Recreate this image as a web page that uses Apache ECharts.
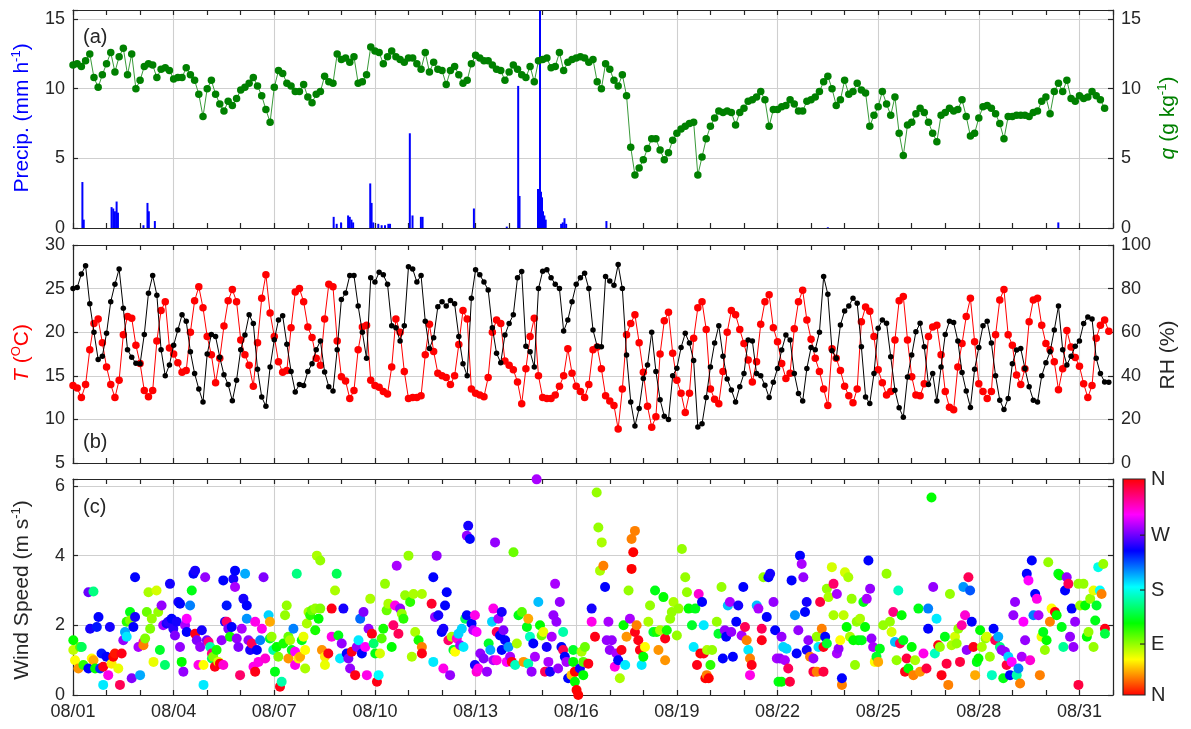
<!DOCTYPE html>
<html><head><meta charset="utf-8">
<script src="https://cdn.jsdelivr.net/npm/echarts@6/dist/echarts.min.js"></script>
<style>html,body{margin:0;padding:0;background:#fff}#c{width:1191px;height:729px}</style>
</head><body><div id="c"></div>
<script>
// ---------- DATA ----------
const dateLabels = ['08/01','08/04','08/07','08/10','08/13','08/16','08/19','08/22','08/25','08/28','08/31'];
const STEP = 0.125; // 3-hourly samples, in days since 08/01 00:00

// Precipitation [day, mm/h]
const precip = [[0.28,3.3],[0.32,0.6],[1.15,1.5],[1.2,1.4],[1.25,1.2],[1.3,1.9],[1.34,1.1],[2.1,0.2],[2.22,1.8],[2.26,1.2],[2.44,0.5],
[7.77,0.8],[7.86,0.3],[7.99,0.4],[8.2,0.9],[8.25,0.8],[8.3,0.6],[8.35,0.4],[8.86,3.2],[8.9,1.8],[8.95,0.4],[9.1,0.3],[9.2,0.2],[9.3,0.2],[9.4,0.3],[9.45,0.3],
[10.04,6.8],[10.12,0.9],[10.37,0.8],[10.42,0.8],[11.95,1.4],[12.93,0.1],[13.27,10.2],[13.31,2.3],[13.86,2.8],[13.9,2.7],[13.92,15.6],[13.95,2.6],[13.98,2.2],
[14.01,1.2],[14.05,0.9],[14.09,0.6],[14.55,0.3],[14.6,0.4],[14.65,0.7],[14.7,0.3],[15.9,0.5],[22.5,0.05],[29.37,0.4]];

// Specific humidity q (g/kg), 3-hourly
const qVals = [
11.7,11.8,11.6,12.0,12.5,10.8,10.1,11.0, 11.8,12.6,11.2,12.3,12.9,11.0,12.5,10.0,
10.6,11.6,11.8,11.7,10.8,11.4,11.5,11.3, 10.7,10.8,10.8,11.5,11.0,10.6,9.6,8.0,
10.0,10.6,9.6,8.9,8.4,9.1,8.8,9.3, 9.9,10.1,10.4,10.8,10.2,9.5,8.5,7.6,
10.1,11.3,11.1,10.4,10.2,9.8,9.8,10.3, 9.4,9.0,9.6,9.8,10.9,10.5,10.4,12.5,
12.1,12.2,11.9,12.3,10.4,10.5,11.0,13.0, 12.7,12.6,11.8,12.3,12.7,12.3,12.1,11.9,
12.2,12.2,11.8,11.4,12.6,11.2,11.9,11.4, 11.3,10.3,11.3,11.6,11.0,10.4,10.6,11.8,
12.4,12.2,12.0,12.0,11.7,11.4,11.3,10.6, 11.2,11.7,11.4,11.0,10.8,11.6,10.5,12.0,
12.1,12.2,11.5,11.6,12.6,11.3,11.9,12.1, 12.2,12.3,12.2,11.9,12.1,10.5,10.0,11.8,
11.4,10.6,10.2,11.0,9.5,5.8,3.8,4.3, 4.9,5.7,6.4,6.4,5.6,4.9,5.4,6.3,
6.8,7.1,7.3,7.5,7.6,3.8,5.1,6.4, 7.3,7.9,8.4,8.3,8.4,8.3,7.4,8.3,
8.6,9.1,9.2,9.4,9.8,9.2,7.3,8.5, 8.5,8.7,8.8,9.2,8.9,8.4,8.4,9.1,
9.2,9.4,9.8,10.5,10.9,10.0,8.8,9.2, 10.6,9.6,9.8,10.4,9.9,9.7,7.3,8.1,
8.7,9.8,8.9,8.1,9.4,6.8,5.2,7.4, 7.6,8.2,8.6,8.3,7.6,6.8,6.2,8.1,
8.3,8.6,8.4,8.5,9.2,8.0,6.6,6.8, 7.9,8.7,8.8,8.6,8.2,7.5,6.4,8.0,
8.0,8.1,8.1,8.1,8.0,8.3,8.4,9.1, 9.4,8.2,9.8,10.4,9.8,10.6,9.3,9.1,
9.5,9.3,9.4,9.8,9.5,9.2,8.6];

// Temperature (degC), 3-hourly
const tVals = [
13.9,13.6,12.5,14.0,18.0,21.0,21.5,18.8, 16.0,14.0,12.5,14.5,19.7,21.8,21.6,18.5,
16.4,13.3,12.6,13.3,19.0,22.5,23.5,18.2, 17.5,16.5,15.4,15.6,20.0,23.6,25.2,22.8,
19.5,17.4,14.2,17.0,20.7,23.6,24.9,23.5, 19.1,17.4,16.2,13.8,18.8,23.9,26.6,22.2,
19.5,16.6,15.4,15.6,20.5,24.6,25.0,23.5, 20.6,19.4,17.0,16.2,21.5,25.5,25.2,19.0,
14.9,14.4,12.4,13.3,18.0,20.6,20.8,14.5, 13.9,13.7,13.2,12.9,16.0,21.5,20.0,15.5,
12.4,12.5,12.5,12.7,17.4,20.9,17.8,15.3, 15.0,14.8,14.0,15.0,18.6,22.5,21.5,13.5,
13.0,12.8,12.6,14.8,20.0,21.4,21.0,16.7, 16.2,15.7,14.3,11.8,15.8,19.5,21.6,15.0,
12.5,12.4,12.4,12.8,13.8,15.0,18.1,15.3, 13.8,13.2,12.5,14.0,18.0,18.3,15.8,12.7,
12.1,11.6,8.9,13.5,19.7,21.0,22.0,18.8, 15.4,11.5,9.1,10.3,17.5,21.3,22.3,17.6,
14.5,13.0,10.8,13.0,19.3,22.8,23.5,20.3, 13.5,12.3,11.8,15.5,20.0,22.5,22.0,20.3,
18.7,16.8,14.3,16.6,20.9,23.5,24.3,20.5, 18.9,16.4,14.7,15.3,20.4,23.5,24.8,21.4,
19.2,17.0,15.5,13.5,11.6,18.1,17.0,15.6, 13.8,12.7,11.9,13.5,21.2,22.9,22.4,19.5,
15.7,14.2,12.8,13.2,19.1,23.6,24.1,19.1, 14.9,12.8,12.7,14.1,19.5,20.6,20.8,17.4,
13.2,11.4,11.1,16.0,18.7,21.8,23.9,18.9, 14.1,13.2,12.4,13.2,19.7,23.7,24.9,19.7,
18.5,15.1,14.0,15.8,21.2,23.7,23.9,20.8, 18.7,18.0,16.6,13.4,15.8,20.2,18.3,17.1,
16.1,14.1,12.5,13.9,19.3,20.8,21.4,20.1];

// Relative humidity (%), 3-hourly
const rhVals = [
80.0,80.5,86.7,90.5,73.0,60.0,47.5,49.0, 59.5,74.0,82.0,89.0,71.0,52.0,48.5,45.8,
45.5,59.0,77.9,86.0,77.0,52.0,40.0,45.0, 54.0,61.0,68.0,65.0,51.0,41.0,34.0,28.0,
50.0,59.0,58.0,48.5,40.5,36.0,28.5,38.0, 52.0,58.7,68.0,64.0,43.0,30.3,26.0,44.0,
56.5,65.6,67.5,54.5,42.0,32.6,36.0,35.5, 42.0,45.5,52.0,56.0,41.8,35.0,33.0,52.0,
75.0,78.0,86.0,86.0,72.0,60.0,48.0,85.0, 83.0,87.5,86.3,82.0,63.0,62.0,56.0,63.0,
90.0,89.0,83.0,86.0,65.0,52.5,57.5,71.7, 74.0,72.0,74.5,73.0,58.0,45.5,40.0,75.6,
88.6,86.3,83.0,79.4,62.0,50.3,46.0,58.7, 64.0,68.0,85.0,87.8,53.5,51.0,44.0,80.0,
88.0,88.6,85.0,82.0,80.0,60.5,65.6,74.0, 82.0,85.0,87.0,80.0,61.0,53.5,53.3,85.5,
83.5,81.5,91.0,80.0,49.5,28.0,17.0,25.0, 38.8,45.0,60.0,42.0,29.0,21.5,20.0,40.0,
43.5,53.0,59.5,55.0,47.0,16.5,18.0,30.0, 44.0,55.0,63.0,49.0,38.5,33.5,28.0,35.0,
41.0,56.4,56.0,41.0,40.0,35.7,30.0,37.0, 43.4,51.8,58.7,56.4,41.0,31.9,28.4,43.4,
53.0,52.0,60.0,85.5,77.4,51.5,48.0,63.3, 69.7,72.0,75.6,73.3,53.3,30.3,27.3,41.0,
61.8,65.6,64.1,48.7,33.4,25.3,21.0,39.5, 49.5,60.2,64.1,53.3,36.0,41.0,28.4,44.0,
59.0,65.0,64.5,56.0,41.5,33.0,25.5,43.0, 53.0,63.0,65.0,55.0,40.0,28.8,24.5,29.6,
45.5,51.8,52.5,43.4,35.0,28.8,28.0,40.0, 46.0,51.0,61.0,72.0,52.0,45.0,49.0,53.5,
56.0,64.0,67.0,66.0,48.0,41.0,37.2,37.0];

// Wind observations [day, speed (m/s), direction (deg)]
const windObs = [
[0.01,1.57,120],[0.01,1.29,75],[0.06,1.0,60],[0.16,0.76,35],[0.21,1.38,100],[0.26,1.38,140],[0.31,0.86,110],[0.46,2.95,265],[0.46,0.76,240],[0.51,1.9,245],[0.56,1.05,60],[0.61,2.97,150],[0.61,1.0,40],[0.66,0.76,120],[0.71,1.95,235],[0.76,2.24,240],[0.81,0.76,230],[0.85,1.19,235],[0.9,0.29,185],[0.9,0.81,355],
[1.0,1.1,240],[1.05,0.57,305],[1.1,1.95,245],[1.15,0.9,55],[1.2,1.1,0],[1.25,1.19,5],[1.35,0.76,65],[1.4,0.29,340],[1.45,1.19,355],[1.5,1.57,275],[1.55,1.81,200],[1.6,1.67,185],[1.6,2.1,110],[1.7,2.38,125],[1.7,2.14,90],[1.75,0.48,270],[1.8,1.95,240],[1.85,2.24,245],[1.85,3.38,240],[1.95,1.38,280],
[2.0,0.57,200],[2.1,1.52,320],[2.1,1.43,30],[2.15,1.62,90],[2.2,2.38,95],[2.25,2.95,80],[2.3,1.9,90],[2.35,2.19,85],[2.4,0.95,65],[2.49,3.0,70],[2.54,2.38,85],[2.59,1.29,130],[2.64,2.57,275],[2.69,2.0,280],[2.74,0.86,145],[2.79,2.05,245],[2.84,2.1,250],[2.89,3.19,245],[2.94,2.19,240],[2.99,1.9,250],
[3.04,1.71,270],[3.09,2.1,245],[3.14,2.67,245],[3.19,2.62,240],[3.19,1.38,275],[3.24,0.95,120],[3.29,0.67,275],[3.34,2.0,280],[3.39,2.19,300],[3.39,1.81,240],[3.49,2.57,210],[3.54,3.0,125],[3.59,3.48,240],[3.64,3.57,245],[3.64,1.76,355],[3.69,1.57,270],[3.74,0.86,305],[3.79,1.38,275],[3.84,1.86,245],[3.89,0.86,60],[3.89,0.29,185],[3.94,3.38,275],[3.99,1.57,270],
[4.04,1.52,330],[4.09,1.38,160],[4.14,1.19,330],[4.14,1.05,140],[4.18,1.1,90],[4.23,0.81,355],[4.28,1.29,115],[4.33,0.95,70],[4.38,0.9,0],[4.43,1.57,275],[4.48,0.86,310],[4.48,3.29,240],[4.53,2.1,245],[4.58,2.57,235],[4.58,2.1,335],[4.63,1.9,270],[4.68,1.67,115],[4.73,1.95,240],[4.78,3.33,245],[4.83,3.57,240],[4.83,3.1,280],[4.88,1.62,275],[4.93,1.38,270],[4.98,0.57,335],
[5.03,1.9,280],[5.08,2.76,245],[5.13,3.48,200],[5.18,2.57,240],[5.18,2.19,205],[5.23,1.57,275],[5.28,1.29,245],[5.33,1.48,340],[5.38,0.81,305],[5.43,0.67,355],[5.43,2.1,305],[5.48,1.29,240],[5.53,0.95,305],[5.58,1.57,210],[5.63,1.9,305],[5.68,3.38,270],[5.73,1.05,310],[5.83,2.29,190],[5.87,2.1,40],[5.87,1.62,130],[5.92,1.67,85],[5.97,1.29,160],
[6.02,0.67,125],[6.07,1.38,120],[6.12,1.1,90],[6.17,0.24,355],[6.22,0.38,160],[6.27,1.48,115],[6.32,2.29,85],[6.37,2.57,85],[6.42,1.05,35],[6.42,1.67,95],[6.47,1.57,80],[6.52,1.29,125],[6.57,1.9,210],[6.62,1.24,300],[6.62,0.86,305],[6.67,3.48,150],[6.72,1.05,55],[6.77,1.1,40],[6.82,1.57,125],[6.87,1.67,65],[6.92,1.29,60],[6.92,0.76,80],[6.97,2.05,80],
[7.02,2.38,80],[7.07,2.29,110],[7.12,2.43,95],[7.22,2.48,85],[7.22,1.86,115],[7.27,4.0,80],[7.32,2.19,120],[7.37,3.86,85],[7.37,2.48,90],[7.42,1.29,35],[7.51,1.1,55],[7.51,0.86,65],[7.61,1.19,355],[7.71,2.48,355],[7.71,1.67,305],[7.81,3.0,80],[7.86,3.48,140],[7.91,1.71,125],[7.96,1.05,185],
[8.01,1.48,275],[8.06,2.48,245],[8.16,1.19,240],[8.21,1.05,270],[8.26,0.76,275],[8.31,1.24,355],[8.41,0.57,355],[8.46,1.38,275],[8.51,1.57,185],[8.56,2.19,215],[8.61,1.19,240],[8.66,2.38,270],[8.71,1.38,300],[8.76,0.57,305],[8.81,1.9,275],[8.86,2.76,80],[8.91,1.76,355],[8.96,1.48,145],
[9.01,1.19,125],[9.06,0.38,355],[9.11,0.57,180],[9.15,1.19,70],[9.2,1.62,100],[9.25,1.9,115],[9.3,3.19,85],[9.35,2.43,95],[9.4,2.62,80],[9.5,1.38,120],[9.55,2.0,335],[9.6,2.57,305],[9.65,3.71,280],[9.7,1.76,340],[9.75,2.48,275],[9.8,2.33,85],[9.85,2.19,110],[9.9,2.86,85],
[10.0,4.0,85],[10.05,2.67,110],[10.1,1.1,80],[10.15,2.9,80],[10.2,1.81,80],[10.3,1.57,115],[10.4,2.9,80],[10.4,1.38,30],[10.4,1.19,355],
[10.69,2.62,350],[10.74,0.95,185],[10.74,3.38,240],[10.79,2.24,275],[10.84,4.0,275],[10.89,2.29,245],[10.99,1.81,240],[11.04,1.9,245],[11.04,0.76,305],[11.09,2.57,240],[11.14,2.95,240],[11.19,1.57,335],[11.24,0.57,275],[11.29,1.67,80],[11.34,1.29,130],[11.39,1.24,60],[11.44,1.62,310],[11.49,1.76,190],[11.54,1.43,280],[11.59,1.9,190],[11.64,1.38,185],[11.69,2.19,140],[11.74,2.29,240],[11.74,4.57,275],[11.78,4.86,245],[11.83,4.48,240],[11.88,2.05,240],[11.93,1.86,280],[11.98,2.29,305],[11.98,0.86,245],
[12.03,1.81,300],[12.03,0.67,310],[12.08,0.76,305],[12.14,1.19,275],[12.24,1.05,270],[12.34,0.67,275],[12.39,1.48,130],[12.44,1.29,200],[12.49,2.1,190],[12.53,2.48,305],[12.53,1.0,280],[12.58,4.38,275],[12.63,1.81,340],[12.63,1.0,305],[12.68,2.19,280],[12.73,1.71,240],[12.78,2.38,245],[12.78,1.29,240],[12.83,1.86,270],[12.88,1.57,240],[12.93,0.95,300],[12.98,1.38,205],
[13.03,1.1,280],[13.08,0.95,355],[13.13,4.1,95],[13.18,0.86,165],[13.23,1.48,80],[13.28,2.29,125],[13.38,2.38,100],[13.43,0.95,35],[13.53,1.95,125],[13.57,2.19,40],[13.57,0.9,160],[13.62,1.67,165],[13.67,0.67,275],[13.72,1.48,240],[13.77,1.1,280],[13.82,6.19,280],[13.87,2.67,195],[13.92,2.0,120],[13.97,1.71,95],
[14.02,1.81,65],[14.07,0.67,340],[14.12,1.38,245],[14.17,0.95,280],[14.22,0.67,245],[14.27,1.67,280],[14.32,2.29,275],[14.37,3.19,280],[14.41,2.1,275],[14.46,0.76,275],[14.51,2.67,275],[14.56,1.38,240],[14.61,1.29,340],[14.61,1.81,160],[14.66,1.1,240],[14.71,0.95,280],[14.76,0.48,240],[14.86,0.57,45],[14.91,1.29,130],[14.91,0.95,120],[14.96,0.67,0],[14.96,0.38,120],
[15.01,0.14,0],[15.06,0.0,0],[15.11,0.76,245],[15.16,1.24,80],[15.21,0.95,100],[15.21,0.57,120],[15.26,1.38,95],[15.36,0.9,355],[15.46,2.48,245],[15.46,2.1,305],[15.56,1.67,355],[15.61,5.81,85],[15.66,4.81,85],[15.71,3.57,80],[15.76,4.38,80],[15.81,3.71,30],[15.86,3.1,240],[15.91,1.57,275],[15.96,2.1,280],
[16.0,1.29,275],[16.06,1.57,275],[16.15,0.81,305],[16.2,1.19,280],[16.25,1.0,240],[16.3,0.48,80],[16.35,1.29,355],[16.41,2.0,120],[16.46,0.86,185],[16.5,1.67,35],[16.56,3.0,85],[16.6,2.19,280],[16.65,3.62,0],[16.65,4.48,30],[16.7,4.1,0],[16.75,4.71,30],[16.75,1.81,355],[16.8,2.0,30],[16.85,1.57,355],[16.9,1.29,355],[16.95,0.86,185],
[17.0,1.1,120],[17.05,1.38,60],[17.15,2.1,80],[17.2,2.57,85],[17.3,1.81,130],[17.35,3.0,125],[17.4,1.81,115],[17.45,1.29,35],[17.5,1.86,80],[17.6,2.81,120],[17.65,1.0,35],[17.65,1.62,355],[17.7,1.86,115],[17.8,2.19,85],[17.85,2.38,85],[17.9,2.67,80],
[18.0,1.71,85],[18.05,2.48,85],[18.15,4.19,85],[18.25,3.38,85],[18.3,2.95,85],[18.35,2.48,120],[18.45,2.0,130],[18.5,1.38,185],[18.55,2.48,125],[18.6,0.86,355],[18.65,2.9,310],[18.7,1.19,0],[18.75,2.67,240],[18.8,2.0,185],[18.8,1.19,355],[18.85,0.48,0],[18.89,0.57,30],[18.9,1.29,80],[18.95,0.48,0],
[19.0,0.86,110],[19.05,1.29,85],[19.19,2.1,85],[19.24,1.76,130],[19.33,3.1,85],[19.37,1.05,240],[19.43,1.86,275],[19.47,1.67,240],[19.52,2.57,195],[19.58,2.67,280],[19.62,1.81,275],[19.67,1.1,240],[19.77,2.1,240],[19.83,2.57,245],[19.93,1.71,280],[19.98,3.1,240],
[20.03,1.95,340],[20.08,1.57,30],[20.13,1.29,185],[20.18,1.05,30],[20.18,0.57,305],[20.23,0.86,355],[20.38,2.57,195],[20.43,2.48,280],[20.53,1.9,340],[20.53,1.57,355],[20.58,3.38,85],[20.68,2.24,240],[20.73,3.38,240],[20.78,3.48,245],[20.88,2.67,275],[20.93,1.86,240],[20.98,1.05,280],
[21.03,0.38,125],[21.07,1.05,275],[21.12,1.67,275],[21.12,0.38,120],[21.17,1.38,190],[21.22,1.0,280],[21.27,1.33,190],[21.32,0.76,340],[21.37,0.38,345],[21.42,3.29,240],[21.52,2.29,205],[21.57,1.19,240],[21.62,1.86,275],[21.67,4.0,240],[21.72,3.76,280],[21.77,3.38,275],[21.82,2.38,240],[21.87,2.67,245],[21.87,1.29,245],[21.92,1.57,275],[21.97,1.1,30],
[22.07,1.05,275],[22.07,0.67,345],[22.17,0.67,30],[22.17,1.67,85],[22.22,1.38,185],[22.27,2.67,345],[22.32,1.9,30],[22.37,1.38,355],[22.37,0.67,345],[22.42,1.67,240],[22.47,1.48,130],[22.47,3.05,85],[22.52,2.81,80],[22.62,3.67,70],[22.67,2.29,80],[22.67,3.19,335],[22.77,2.9,280],[22.77,1.19,280],[22.82,1.33,275],[22.87,1.57,60],[22.92,0.29,30],[22.92,0.48,240],[22.97,2.29,75],
[23.01,3.52,70],[23.06,1.95,120],[23.11,3.38,80],[23.16,1.67,80],[23.21,2.76,85],[23.26,1.57,120],[23.31,0.86,85],[23.36,2.1,85],[23.41,1.57,120],[23.46,2.19,80],[23.51,1.57,125],[23.56,2.67,125],[23.61,1.95,120],[23.66,2.76,280],[23.71,3.86,240],[23.76,3.05,275],[23.8,1.62,275],[23.85,1.38,280],[23.9,0.95,60],[23.95,1.1,130],
[24.0,0.95,40],[24.05,1.33,125],[24.15,2.0,85],[24.25,3.48,85],[24.35,2.1,85],[24.4,1.81,70],[24.45,2.38,330],[24.5,1.52,195],[24.55,1.0,85],[24.6,3.0,165],[24.65,1.48,340],[24.7,2.29,120],[24.75,1.57,125],[24.8,0.67,355],[24.85,1.05,345],[24.9,0.76,120],
[25.0,1.38,120],[25.05,0.57,30],[25.1,1.0,80],[25.2,2.48,125],[25.25,0.67,35],[25.35,1.19,305],[25.44,0.76,345],[25.49,2.48,210],[25.49,1.9,240],[25.59,5.67,120],[25.64,3.1,275],[25.69,1.19,165],[25.74,2.19,185],[25.79,1.43,355],[25.84,1.38,85],[25.89,0.57,355],[25.99,1.67,125],
[26.04,0.9,345],[26.09,0.29,30],[26.14,2.9,85],[26.19,1.43,80],[26.29,1.67,70],[26.34,1.48,85],[26.39,1.9,85],[26.44,0.95,345],[26.49,2.0,320],[26.54,3.1,205],[26.59,2.29,310],[26.64,1.29,275],[26.69,3.38,340],[26.74,3.0,220],[26.79,2.1,240],[26.84,1.38,355],[26.89,0.57,40],[26.94,0.95,125],[26.99,1.05,120],
[27.04,1.86,120],[27.09,1.38,80],[27.2,1.62,85],[27.24,1.67,70],[27.33,1.1,85],[27.39,0.57,165],[27.44,1.9,240],[27.49,1.57,340],[27.58,1.67,200],[27.63,1.38,150],[27.68,1.29,275],[27.73,0.48,125],[27.78,1.24,275],[27.83,0.86,345],[27.88,1.1,190],[27.93,0.57,240],[27.98,0.95,300],
[28.03,2.29,275],[28.08,2.67,275],[28.13,0.57,160],[28.18,0.76,210],[28.23,0.33,30],[28.28,1.1,280],[28.33,2.1,300],[28.38,1.57,275],[28.43,3.48,240],[28.48,3.29,300],[28.53,1.0,310],[28.58,3.86,240],[28.63,2.29,210],[28.68,2.9,240],[28.73,2.76,305],[28.78,2.29,280],[28.82,0.57,30],[28.87,1.67,65],[28.92,1.81,125],[28.97,1.29,85],
[29.02,1.57,120],[29.07,3.81,85],[29.12,2.1,30],[29.17,2.48,60],[29.27,2.38,355],[29.32,2.29,120],[29.37,3.48,125],[29.42,3.43,120],[29.47,1.95,125],[29.52,1.38,155],[29.57,3.0,240],[29.62,3.38,275],[29.67,3.19,340],[29.72,1.67,275],[29.77,2.48,240],[29.82,1.38,275],[29.87,2.1,275],[29.97,0.29,345],[29.97,3.19,85],
[30.02,2.57,85],[30.12,3.19,85],[30.17,2.57,120],[30.22,1.67,120],[30.27,1.81,85],[30.32,2.76,85],[30.42,3.0,65],[30.42,1.38,85],[30.47,2.14,125],[30.51,2.57,130],[30.56,3.67,175],[30.61,3.0,180],[30.66,2.9,30],[30.71,3.76,85],[30.76,1.9,355],[30.76,1.76,135]];

const dirLabels = ['N','E','S','W','N'];
const hsvColors = ['#ff0000','#ffff00','#00ff00','#00ffff','#0000ff','#ff00ff','#ff0000'];

// ---------- CHART ----------
const F = '"Liberation Sans", Arial, Helvetica, sans-serif';
const AX = '#262626';
const GC = '#cfcfcf';
const grids = [
  {left:73, top:10, width:1040, height:218},
  {left:73, top:245, width:1040, height:218},
  {left:73, top:479, width:1040, height:216}
];
const lineS = {color:AX, width:1.2};
function xAxesFor(gi, labels){
  return [
    {type:'value', gridIndex:gi, min:0, max:31, interval:1, position:'bottom',
     axisLine:{show:true,onZero:false,lineStyle:lineS},
     axisTick:{show:true,inside:true,length:5,lineStyle:lineS},
     axisLabel:{show:labels, margin:8, color:AX, fontFamily:F, fontSize:18,
       formatter:v => (v%3===0 && v<=30) ? dateLabels[v/3] : ''},
     splitLine:{show:false}},
    {type:'value', gridIndex:gi, min:0, max:31, interval:1, position:'top',
     axisLine:{show:true,onZero:false,lineStyle:lineS},
     axisTick:{show:true,inside:true,length:5,lineStyle:lineS},
     axisLabel:{show:false}, splitLine:{show:false}},
    {type:'value', gridIndex:gi, min:0, max:31, interval:3, position:'bottom',
     axisLine:{show:false}, axisTick:{show:false}, axisLabel:{show:false},
     splitLine:{show:true,lineStyle:{color:GC,width:1.1}}}
  ];
}
function yAx(gi, pos, min, max, interval, labels, split){
  return {type:'value', gridIndex:gi, position:pos, min:min, max:max, interval:interval,
    axisLine:{show:true,onZero:false,lineStyle:lineS},
    axisTick:{show:true,inside:true,length:5,lineStyle:lineS},
    axisLabel:{show:labels, margin:8, color:AX, fontFamily:F, fontSize:18,
      formatter:v => (Math.abs(v/interval - Math.round(v/interval))<1e-6) ? String(v) : ''},
    splitLine:{show:split,lineStyle:{color:GC,width:1.1}}};
}
const idx = a => a.map((v,i)=>[i*STEP, v]);

function rotTitle(x, y, text, rich){
  return {type:'text', x:x, y:y, rotation:Math.PI/2, z:50,
    style:{text:text, rich:rich, align:'center', verticalAlign:'middle'}};
}
function richSet(color){
  return {
    b:{fontSize:21, fontFamily:F, fill:color, color:color, lineHeight:24},
    i:{fontSize:21, fontFamily:F, fill:color, color:color, fontStyle:'italic', lineHeight:24},
    s:{fontSize:13, fontFamily:F, fill:color, color:color, lineHeight:13, verticalAlign:'top'}
  };
}
const cb = {x:1123, y:479, w:22, h:216};
const cbFrac = [0, 0.236, 0.486, 0.74, 1];
const graphics = [
  {type:'text', x:83, y:37, z:50, style:{text:'(a)', font:'20px '+F, fill:AX, verticalAlign:'middle'}},
  {type:'text', x:83, y:442, z:50, style:{text:'(b)', font:'20px '+F, fill:AX, verticalAlign:'middle'}},
  {type:'text', x:83, y:507, z:50, style:{text:'(c)', font:'20px '+F, fill:AX, verticalAlign:'middle'}},
  rotTitle(22, 118, '{b|Precip. (mm h}{s|-1}{b|)}', richSet('#0000ff')),
  rotTitle(22, 353, '{i|T}{b| (}{s|O}{b|C)}', richSet('#ff0000')),
  rotTitle(22, 590, '{b|Wind Speed (m s}{s|-1}{b|)}', richSet('#262626')),
  rotTitle(1168, 118, '{i|q}{b| (g kg}{s|-1}{b|)}', richSet('#008000')),
  rotTitle(1168, 355, '{b|RH (%)}', richSet('#262626')),
  {type:'rect', shape:{x:cb.x, y:cb.y, width:cb.w, height:cb.h}, z:40,
   style:{fill:{type:'linear', x:0, y:1, x2:0, y2:0,
     colorStops:hsvColors.map((c,i)=>({offset:i/(hsvColors.length-1), color:c}))},
     stroke:AX, lineWidth:1.2}}
];
cbFrac.forEach((f,i)=>{
  const yy = cb.y + (1-f)*cb.h;
  graphics.push({type:'text', x:1151, y:yy, z:50, style:{text:dirLabels[i], font:'20px '+F, fill:AX, verticalAlign:'middle'}});
  if (i>0 && i<4) graphics.push({type:'line', z:45, shape:{x1:cb.x+cb.w-5, y1:yy, x2:cb.x+cb.w, y2:yy}, style:{stroke:AX, lineWidth:1.2}});
});

const option = {
  animation:false,
  backgroundColor:'#ffffff',
  grid: grids.map(g=>Object.assign({containLabel:false}, g)),
  xAxis: [].concat(xAxesFor(0,false), xAxesFor(1,false), xAxesFor(2,true)),
  yAxis: [
    yAx(0,'left',0,15.65,5,true,true),
    yAx(0,'right',0,15.65,5,true,false),
    yAx(1,'left',5,30,5,true,true),
    yAx(1,'right',0,100,20,true,false),
    yAx(2,'left',0,6.2,2,true,true),
    yAx(2,'right',0,6.2,2,false,false)
  ],
  visualMap: {show:false, type:'continuous', dimension:2, min:0, max:360, seriesIndex:4,
    inRange:{color:hsvColors}},
  series: [
    {type:'bar', xAxisIndex:0, yAxisIndex:0, data:precip, barWidth:2, itemStyle:{color:'#0000ff'}, z:2},
    {type:'line', xAxisIndex:0, yAxisIndex:1, data:idx(qVals), symbol:'circle', symbolSize:7.5, showAllSymbol:true,
      lineStyle:{color:'#3a9a3a', width:1}, itemStyle:{color:'#008000'}, z:3},
    {type:'line', xAxisIndex:3, yAxisIndex:2, data:idx(tVals), symbol:'circle', symbolSize:7.5, showAllSymbol:true,
      lineStyle:{color:'#ff0000', width:1}, itemStyle:{color:'#ff0000'}, z:3},
    {type:'line', xAxisIndex:3, yAxisIndex:3, data:idx(rhVals), symbol:'circle', symbolSize:5.5, showAllSymbol:true,
      lineStyle:{color:'#000000', width:1}, itemStyle:{color:'#000000'}, z:4},
    {type:'scatter', xAxisIndex:6, yAxisIndex:4, data:windObs, symbolSize:10, clip:false, z:3,
      itemStyle:{opacity:1}}
  ],
  graphic: graphics
};
const chart = echarts.init(document.getElementById('c'), null, {renderer:'canvas'});
chart.setOption(option);
</script></body></html>
